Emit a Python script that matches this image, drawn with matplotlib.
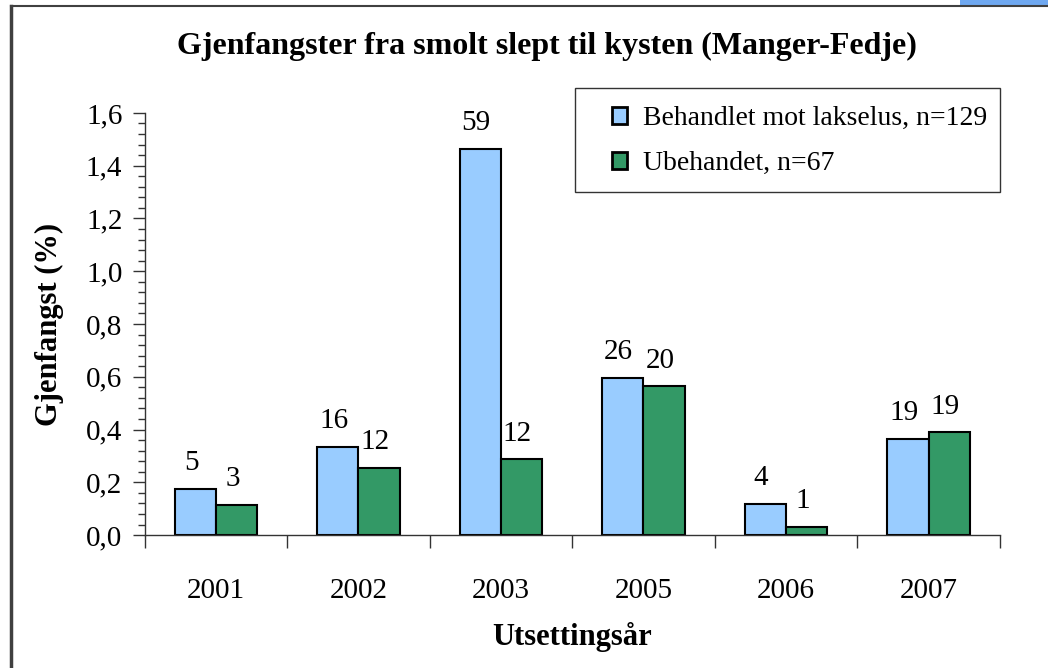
import matplotlib.pyplot as plt
from matplotlib.patches import Rectangle
from matplotlib.ticker import FixedLocator, MultipleLocator, FuncFormatter
import numpy as np

plt.rcParams['font.family'] = ['Liberation Serif', 'DejaVu Serif']

# Data
years = ['2001', '2002', '2003', '2005', '2006', '2007']
treated_pct = [0.176, 0.335, 1.465, 0.597, 0.118, 0.365]
untreated_pct = [0.114, 0.255, 0.287, 0.564, 0.032, 0.389]
treated_n = [5, 16, 59, 26, 4, 19]
untreated_n = [3, 12, 12, 20, 1, 19]
series_names = ['Behandlet mot lakselus, n=129', 'Ubehandet, n=67']

blue = '#99CCFF'
green = '#339966'

fig = plt.figure(figsize=(10.48, 6.68), dpi=100)
ax = fig.add_axes([0.138, 0.199, 0.816, 0.632])

x = np.arange(len(years))
w = 0.29
b1 = ax.bar(x - w / 2, treated_pct, w, color=blue, edgecolor='black', linewidth=1.5,
            label=series_names[0])
b2 = ax.bar(x + w / 2, untreated_pct, w, color=green, edgecolor='black', linewidth=1.5,
            label=series_names[1])

# counts above bars
for bars, counts in [(b1, treated_n), (b2, untreated_n)]:
    for rect, n in zip(bars, counts):
        ax.annotate(str(n), (rect.get_x() + rect.get_width() / 2, rect.get_height()),
                    xytext=(-3, 9), textcoords='offset points',
                    ha='center', va='bottom', fontsize=21)

ax.set_xlim(-0.5, len(years) - 0.5)
ax.set_ylim(0, 1.6)
ax.set_xticks(x)
ax.set_xticklabels(years)
ax.xaxis.set_minor_locator(FixedLocator(np.arange(-0.5, len(years), 1.0)))
ax.yaxis.set_major_locator(MultipleLocator(0.2))
ax.yaxis.set_minor_locator(MultipleLocator(0.04))
ax.yaxis.set_major_formatter(FuncFormatter(lambda v, p: f'{v:.1f}'.replace('.', ',')))

ax.tick_params(axis='x', which='major', length=0, pad=31, labelsize=21)
ax.tick_params(axis='x', which='minor', length=9, width=1, color='#333333')
ax.tick_params(axis='y', which='major', length=9, width=1, pad=7, labelsize=21, color='#333333')
ax.tick_params(axis='y', which='minor', length=5, width=1, color='#333333')

for s in ['top', 'right']:
    ax.spines[s].set_visible(False)
for s in ['left', 'bottom']:
    ax.spines[s].set_color('#333333')
    ax.spines[s].set_linewidth(1)

ax.set_ylabel('Gjenfangst (%)', fontsize=22, fontweight='bold', labelpad=16)
ax.set_xlabel('Utsettingsår', fontsize=22, fontweight='bold', labelpad=13)

fig.text(0.522, 0.93, 'Gjenfangster fra smolt slept til kysten (Manger-Fedje)',
         ha='center', va='center', fontsize=23, fontweight='bold')

leg = ax.legend(loc='upper left', bbox_to_anchor=(612 / 1048, 1 - 106 / 668),
                bbox_transform=fig.transFigure, fontsize=20, frameon=False,
                handlelength=0.55, handleheight=0.55, handletextpad=0.55,
                borderpad=0, labelspacing=0.72, borderaxespad=0)
for h in leg.legend_handles:
    h.set_linewidth(2)
fig.add_artist(Rectangle((575 / 1048, 1 - 192 / 668), 425 / 1048, 104 / 668,
                         transform=fig.transFigure, facecolor='none',
                         edgecolor='#333333', linewidth=1))

# outer frame and corner strip
fig.add_artist(plt.Line2D([11 / 1048, 11 / 1048], [0, 1 - 6 / 668], transform=fig.transFigure,
                          color='#404040', linewidth=2.5))
fig.add_artist(plt.Line2D([11 / 1048, 1], [1 - 6 / 668, 1 - 6 / 668], transform=fig.transFigure,
                          color='#404040', linewidth=1.5))
fig.add_artist(Rectangle((960 / 1048, 1 - 5 / 668), 88 / 1048, 5 / 668, transform=fig.transFigure,
                         facecolor='#6FA8F0', edgecolor='none'))

fig.savefig('out.png', dpi=100)
